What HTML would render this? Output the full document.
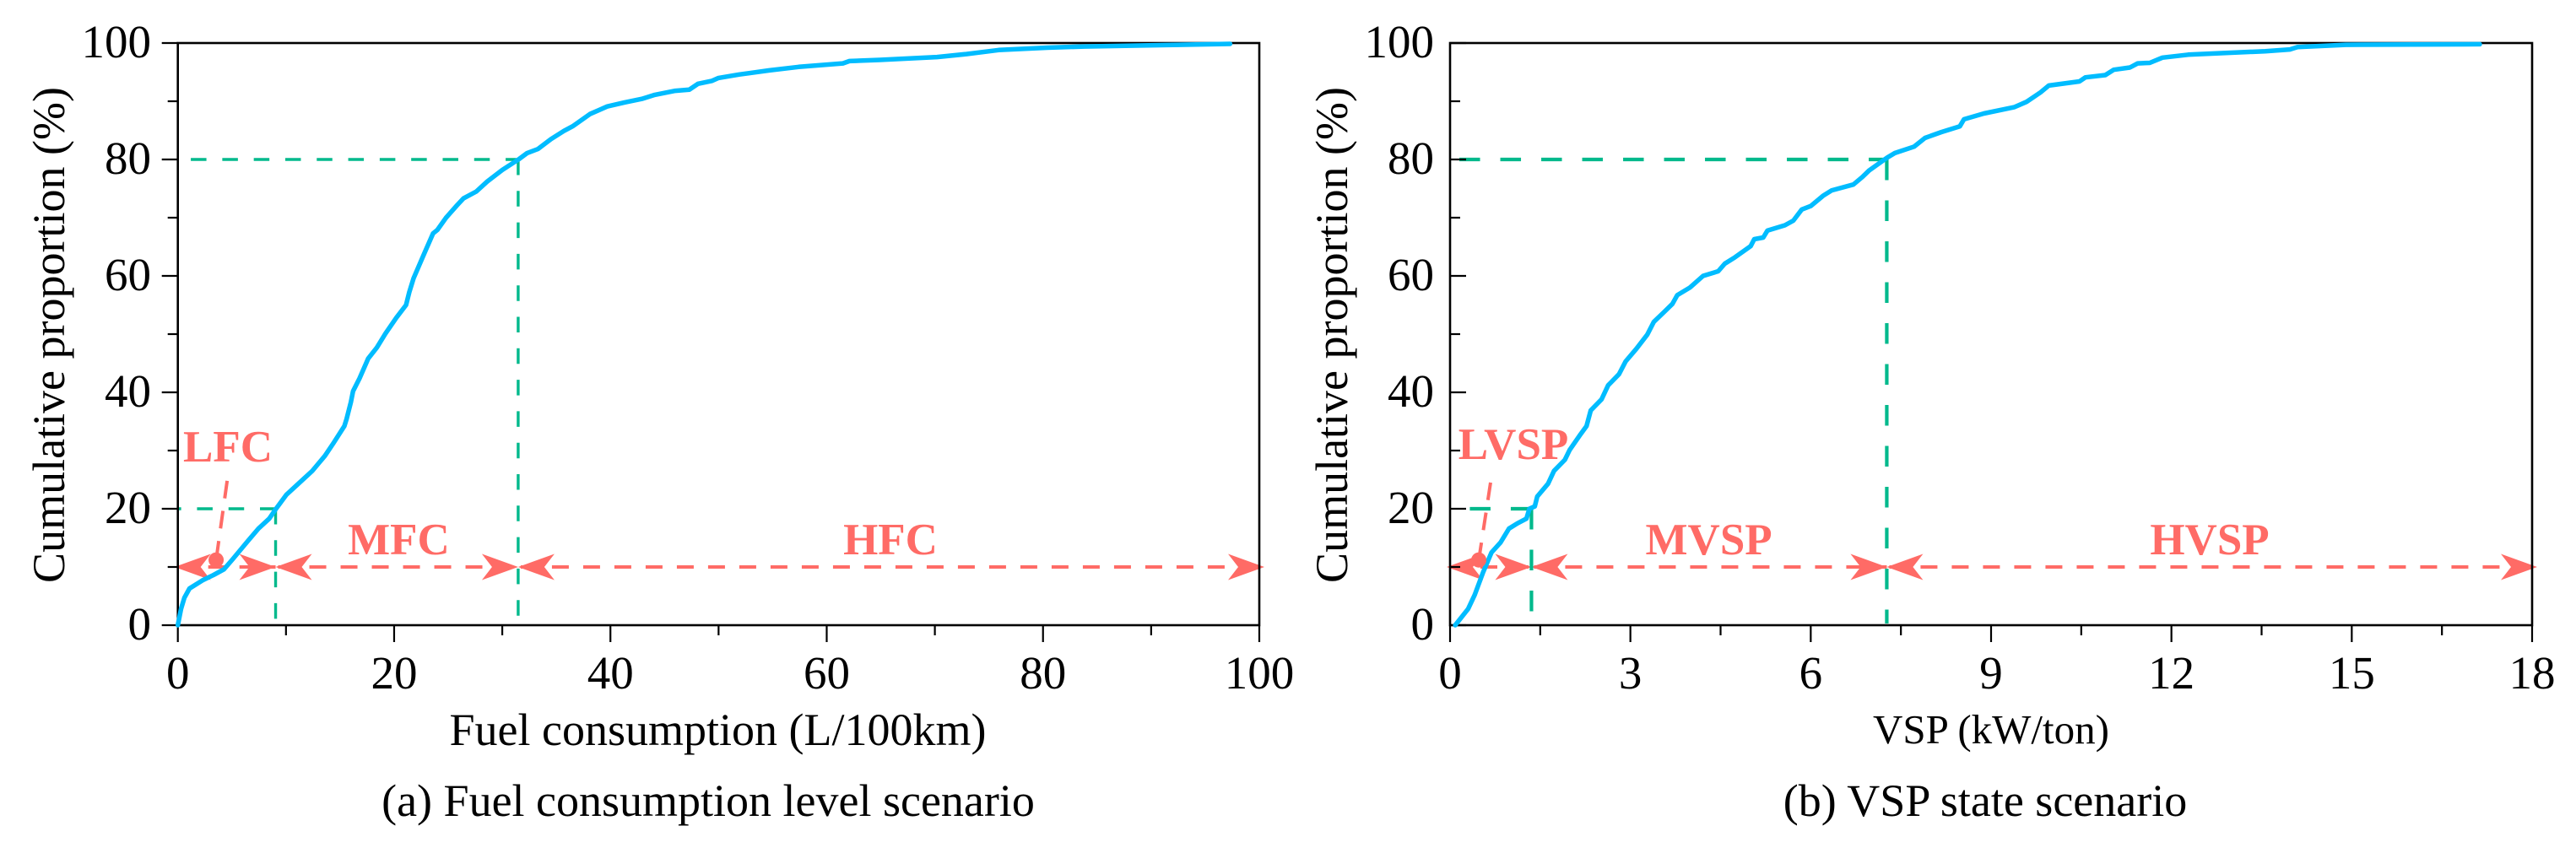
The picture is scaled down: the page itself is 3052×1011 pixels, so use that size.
<!DOCTYPE html>
<html lang="en">
<head>
<meta charset="utf-8">
<title>Cumulative proportion charts</title>
<style>
html,body{margin:0;padding:0;background:#fff;width:3052px;height:1011px;overflow:hidden}
svg{display:block}
text{font-family:"Liberation Serif",serif;fill:#000}
.tick{font-size:55px}
.axis-title{font-size:54px}
.caption{font-size:54px}
.zone{font-size:53px;font-weight:bold;fill:#ff6b66;text-anchor:middle}
</style>
</head>
<body>
<svg id="chart" xmlns="http://www.w3.org/2000/svg" width="3052" height="1011" viewBox="0 0 3052 1011">
  <rect x="0" y="0" width="3052" height="1011" fill="#ffffff"/>
  <g id="panel-a"></g>
  <g id="panel-b"></g>

  <text class="axis-title" transform="translate(76 397) rotate(-90)" text-anchor="middle">Cumulative proportion (%)</text>
  <text class="axis-title" x="850.5" y="883" text-anchor="middle">Fuel consumption (L/100km)</text>
  <text class="caption" x="839" y="967" text-anchor="middle">(a) Fuel consumption level scenario</text>
  <text class="zone" x="270" y="547">LFC</text>
  <text class="zone" x="472.5" y="657">MFC</text>
  <text class="zone" x="1055" y="657">HFC</text>

  <text class="axis-title" transform="translate(1596 397) rotate(-90)" text-anchor="middle">Cumulative proportion (%)</text>
  <text class="axis-title" x="2359" y="881" text-anchor="middle" style="font-size:49px">VSP (kW/ton)</text>
  <text class="caption" x="2352" y="967" text-anchor="middle">(b) VSP state scenario</text>
  <text class="zone" x="1793" y="544">LVSP</text>
  <text class="zone" x="2024.6" y="657">MVSP</text>
  <text class="zone" x="2618" y="657">HVSP</text>
</svg>
<script>
const fuelX = [0,0.3,0.6,1.08,2.27,3.27,4.26,5.06,6.45,7.45,8.45,9.04,10.04,11.03,12.43,13.6,14.4,15.4,15.6,16,16.2,16.8,17.6,18.4,19.2,20.2,21.1,21.4,21.8,22.8,23.6,24,24.8,25.8,26.4,27.6,28.6,30,31.5,32.3,33.3,34.5,35.7,36.5,38.1,39.7,41.3,42.9,44.1,46,47.3,48.1,49.4,50,51.9,54.7,57.4,61.5,62.1,64.9,70.2,72.9,75.9,80.4,83.8,91.4,97.3];
const fuelY = [0,2.8,4.7,6.3,7.7,8.6,9.6,11.3,14.4,16.6,18.3,19.9,22.4,24.1,26.5,29.1,31.3,34.2,35.4,38.3,40.2,42.4,45.8,47.7,50.1,52.8,55,57.2,59.6,63.9,67.3,67.9,70,72.1,73.3,74.5,76.2,78.2,80,81.1,81.8,83.5,84.9,85.7,87.8,89.1,89.8,90.4,91.1,91.8,92,93,93.5,94,94.6,95.3,95.9,96.5,96.9,97.1,97.6,98.1,98.8,99.2,99.4,99.65,99.85];
const vspX = [0.085,0.3,0.41,0.55,0.69,0.84,0.98,1.12,1.27,1.32,1.41,1.45,1.63,1.73,1.91,1.99,2.17,2.27,2.34,2.52,2.63,2.81,2.92,3.1,3.28,3.39,3.56,3.7,3.78,3.99,4.21,4.46,4.57,4.74,5,5.06,5.21,5.28,5.57,5.71,5.85,6,6.21,6.35,6.71,6.86,6.97,7.27,7.4,7.72,7.9,8.17,8.48,8.55,8.88,9.39,9.59,9.82,9.96,10.47,10.57,10.9,11.04,11.31,11.44,11.64,11.85,12.28,13.56,13.97,14.1,14.9,17.13];
const vspY = [0,2.8,5.2,9.1,12.5,14.2,16.6,17.5,18.3,20,20.4,22.1,24.3,26.5,28.4,30.1,32.8,34.2,36.9,38.8,41.2,43.1,45.3,47.5,49.9,52.1,53.8,55.2,56.7,58,60,60.8,62.1,63.2,65.1,66.3,66.6,67.8,68.7,69.5,71.4,72,73.8,74.7,75.7,77,78.1,80.3,81.1,82.2,83.7,84.7,85.7,86.9,87.9,89,89.9,91.5,92.7,93.4,94.1,94.5,95.4,95.8,96.5,96.6,97.5,98,98.6,98.9,99.3,99.7,99.8];

const yTickLabels = [0,20,40,60,80,100];
const yMinorTicks = [10,30,50,70,90];
const fuelXTickLabels = [0,20,40,60,80,100];
const fuelXMinorTicks = [10,30,50,70,90];
const vspXTickLabels = [0,3,6,9,12,15,18];
const vspXMinorTicks = [1.5,4.5,7.5,10.5,13.5,16.5];

const fuelThresholds = [9.04,31.47];
const vspThresholds = [1.354,7.265];
const thresholdLevels = [20,80];
const zoneArrowLevel = 10;
const fuelMarker = [3.54,11.2];
const vspMarker = [0.478,11.2];
const fuelLeaderEnd = [4.56,24.8];
const vspLeaderEnd = [0.674,24.5];
const fuelGuideEnds = [0.1,1.2];
const vspGuideEnds = [0.32,0.155];

const GREEN = '#00b98c', RED = '#ff6b66', BLUE = '#00bcff', INK = '#000000';
const NS = 'http://www.w3.org/2000/svg';

function make(parent, tag, attrs) {
  const el = document.createElementNS(NS, tag);
  for (const k in attrs) el.setAttribute(k, attrs[k]);
  parent.appendChild(el);
  return el;
}

function drawPanel(opt) {
  const root = document.getElementById(opt.id);
  const sx = v => opt.left + (v / opt.xMax) * (opt.right - opt.left);
  const sy = v => opt.bottom - (v / 100) * (opt.bottom - opt.top);

  // red zone arrows and dashes
  const ay = sy(zoneArrowLevel);
  const stops = [sx(0) - 4, sx(opt.thresholds[0]), sx(opt.thresholds[1]), sx(opt.xMax) + 6];
  for (let i = 0; i < 3; i++) {
    const seg = make(root, 'line', {x1: stops[i], y1: ay, x2: stops[i + 1], y2: ay, stroke: RED, 'stroke-width': 4, 'stroke-dasharray': '20 17', 'stroke-dashoffset': -3});
    
    
    [[stops[i], 1], [stops[i + 1], -1]].forEach(function (a) {
      const tip = a[0], d = a[1];
      const pts = [[tip, ay], [tip + d * 43, ay - 15.5], [tip + d * 31, ay], [tip + d * 43, ay + 15.5]];
      const head = make(root, 'polygon', {points: pts.map(p => p.join(',')).join(' '), fill: RED});
      
      
    });
  }

  // green guide lines
  opt.thresholds.forEach(function (t, i) {
    const level = thresholdLevels[i];
    const h = make(root, 'line', {x1: i === 0 ? sx(t) : sx(opt.guideEnds[i]), y1: sy(level), x2: i === 0 ? sx(opt.guideEnds[i]) : sx(t), y2: sy(level), stroke: GREEN, 'stroke-width': opt.guideWidth, 'stroke-dasharray': opt.guideDash});
    
    
    const v = make(root, 'line', {x1: sx(t), y1: sy(level), x2: sx(t), y2: sy(0) - 2, stroke: GREEN, 'stroke-width': opt.guideWidth, 'stroke-dasharray': opt.guideDash});
    
    
  });

  // frame
  const frame = make(root, 'rect', {x: opt.left, y: opt.top, width: opt.right - opt.left, height: opt.bottom - opt.top, fill: 'none', stroke: INK, 'stroke-width': 2.6});
  
  

  // x ticks
  opt.xLabels.forEach(function (v) {
    const t = make(root, 'line', {x1: sx(v), y1: opt.bottom, x2: sx(v), y2: opt.bottom + 20, stroke: INK, 'stroke-width': 2.2});
    
    
    const lab = make(root, 'text', {x: sx(v), y: 816, 'text-anchor': 'middle', class: 'tick'});
    lab.textContent = v;
    
    
  });
  opt.xMinor.forEach(function (v) {
    const t = make(root, 'line', {x1: sx(v), y1: opt.bottom, x2: sx(v), y2: opt.bottom + 12, stroke: INK, 'stroke-width': 2.2});
    
    
  });

  // y ticks
  yTickLabels.forEach(function (v) {
    const t = make(root, 'line', {x1: opt.left, y1: sy(v), x2: opt.left + opt.tickDir * 19, y2: sy(v), stroke: INK, 'stroke-width': 2.2});
    
    
    const lab = make(root, 'text', {x: opt.labelX, y: sy(v) + 17, 'text-anchor': 'end', class: 'tick'});
    lab.textContent = v;
    
    
  });
  yMinorTicks.forEach(function (v) {
    const t = make(root, 'line', {x1: opt.left, y1: sy(v), x2: opt.left + opt.tickDir * 12, y2: sy(v), stroke: INK, 'stroke-width': 2.2});
    
    
  });

  // cumulative curve
  const d = opt.xs.map((v, i) => (i ? 'L' : 'M') + sx(v).toFixed(1) + ' ' + sy(opt.ys[i]).toFixed(1)).join(' ');
  const curve = make(root, 'path', {d: d, fill: 'none', stroke: BLUE, 'stroke-width': 5.5, 'stroke-linejoin': 'round', 'stroke-linecap': 'round'});
  
  

  // low-zone leader and marker
  const leader = make(root, 'line', {x1: sx(opt.leaderEnd[0]), y1: sy(opt.leaderEnd[1]), x2: sx(opt.marker[0]), y2: sy(opt.marker[1]), stroke: RED, 'stroke-width': 4, 'stroke-dasharray': '21 15'});
  
  
  const dot = make(root, 'circle', {cx: sx(opt.marker[0]), cy: sy(opt.marker[1]), r: 9, fill: RED});
  
  
}

drawPanel({id: 'panel-a', left: 210.7, right: 1492, top: 51, bottom: 741, xMax: 100, xs: fuelX, ys: fuelY, xLabels: fuelXTickLabels, xMinor: fuelXMinorTicks, thresholds: fuelThresholds, marker: fuelMarker, leaderEnd: fuelLeaderEnd, guideEnds: fuelGuideEnds, guideWidth: 3.4, guideDash: '18.5 18.8', tickDir: -1, labelX: 179});
drawPanel({id: 'panel-b', left: 1718, right: 3000, top: 51, bottom: 741, xMax: 18, xs: vspX, ys: vspY, xLabels: vspXTickLabels, xMinor: vspXMinorTicks, thresholds: vspThresholds, marker: vspMarker, leaderEnd: vspLeaderEnd, guideEnds: vspGuideEnds, guideWidth: 4.2, guideDash: '24.5 24', tickDir: 1, labelX: 1699});
</script>
</body>
</html>
